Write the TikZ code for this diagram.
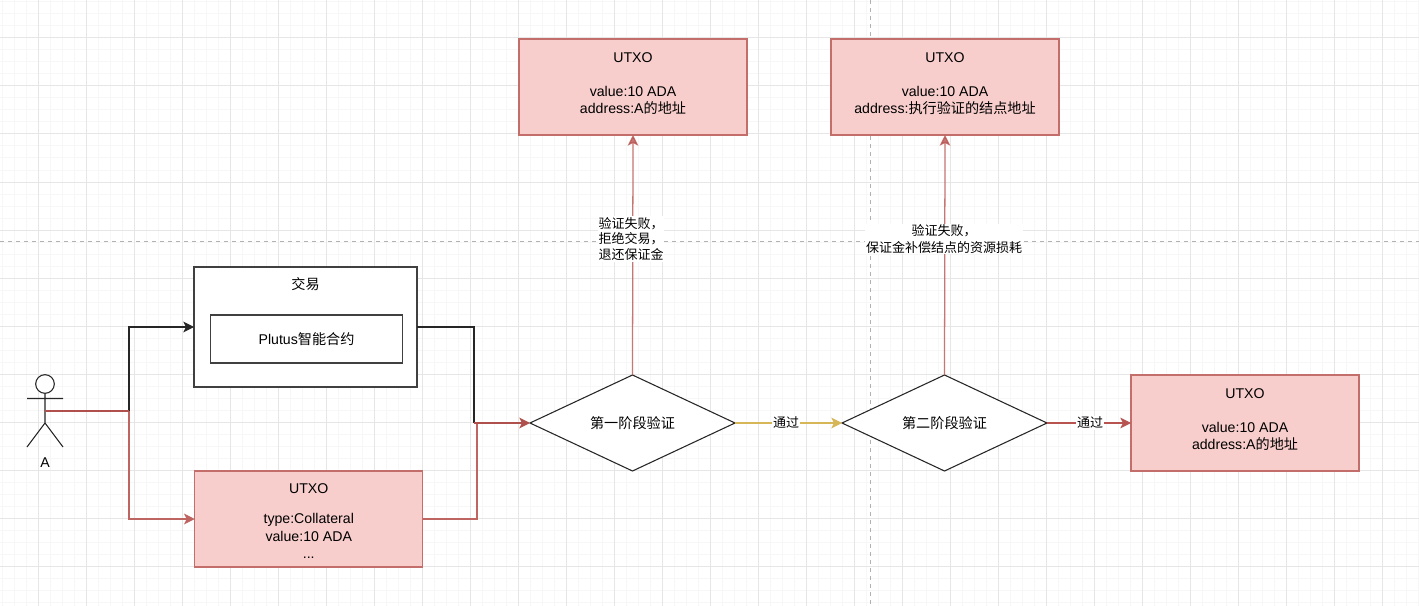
\documentclass[tikz,border=0pt]{standalone}
\usepackage{fontspec}
\setmainfont{Liberation Sans}
\newfontfamily\cjk{Noto Sans CJK SC}
\newcommand{\zh}[1]{{\cjk #1}}
\usetikzlibrary{arrows.meta,shapes.geometric}
\definecolor{redl}{HTML}{B85450}
\definecolor{redf}{HTML}{F8CECC}
\definecolor{yell}{HTML}{D6B656}
\definecolor{gmaj}{HTML}{E6E6E6}
\definecolor{gmin}{HTML}{F7F7F7}
\newcommand{\liftup}{\\[-7pt]\mbox{}}
\tikzset{
  x=0.75pt,y=-0.75pt,
  every node/.style={font=\fontsize{10.6pt}{12.9pt}\selectfont,inner sep=0pt,outer sep=0pt,align=center},
  redbox/.style={rectangle,draw=redl!85,fill=redf,line width=1.1pt,minimum width=171pt,minimum height=72pt,text=black},
  plainbox/.style={rectangle,draw=black!75,fill=white,line width=1pt},
  decision/.style={diamond,aspect=2.135,draw=black!85,fill=white,line width=0.8pt,minimum width=153.75pt,minimum height=72pt,inner sep=0pt},
  conn/.style={line width=0.95pt,-{Stealth[length=8pt,width=8pt,inset=2pt]}},
  noarrow/.style={line width=0.95pt},
  edgelabel/.style={font=\fontsize{9.75pt}{12pt}\selectfont,fill=white,inner sep=0.5pt},
}
\begin{document}
\begin{tikzpicture}
\useasboundingbox (0,0) rectangle (1419,606);
\fill[white] (0,0) rectangle (1419,606);
% grid
\foreach \i in {0,...,118} {\draw[gmin,line width=0.75pt] ({2+12*\i},0) -- ({2+12*\i},606);}
\foreach \i in {0,...,50} {\draw[gmin,line width=0.75pt] (0,{2+12*\i}) -- (1419,{2+12*\i});}
\foreach \i in {0,...,29} {\draw[gmaj,line width=0.75pt] ({38+48*\i},0) -- ({38+48*\i},606);}
\foreach \i in {0,...,12} {\draw[gmaj,line width=0.75pt] (0,{38+48*\i}) -- (1419,{38+48*\i});}
% page breaks
\draw[black!30,line width=0.75pt,dash pattern=on 3pt off 3pt] (0,241) -- (1419,241);
\draw[black!30,line width=0.75pt,dash pattern=on 3pt off 3pt] (870,0) -- (870,606);
% actor
\draw[black!85,line width=0.8pt] (45,393.5) -- (45,423) (27,398.5) -- (63,398.5) (27,447) -- (45,423) -- (63,447);
\node[circle,draw=black!85,fill=white,line width=0.8pt,minimum size=14pt] (head) at (45,384) {};
\node (actorlabel) at (45,463) {A};
\coordinate (actor) at (45,411);
\coordinate (split) at (129,411);
% boxes
\node[plainbox,minimum width=167.25pt,minimum height=90pt] (tx) at (305.5,327) {};
\node (txlabel) at (305.5,284) {\zh{交易}};
\node[plainbox,minimum width=144pt,minimum height=36pt] (plutus) at (306.5,339) {Plutus\zh{智能合约}};
\node[redbox] (coll) at (308.75,519) {};
\node at (308.75,489) {UTXO};
\node at (308.75,519.5) {type:Collateral};
\node at (308.75,536.5) {value:10 ADA};
\node at (308.75,558) {...};
\node[redbox] (u1) at (633,87) {UTXO\\[12.9pt]value:10 ADA\\address:A\zh{的地址}\liftup};
\node[redbox] (u2) at (945,87) {UTXO\\[12.9pt]value:10 ADA\\address:\zh{执行验证的结点地址}\liftup};
\node[redbox] (u3) at (1245,423) {UTXO\\[12.9pt]value:10 ADA\\address:A\zh{的地址}\liftup};
\node[decision] (d1) at (632.5,423) {\zh{第一阶段验证}};
\node[decision] (d2) at (944.5,423) {\zh{第二阶段验证}};
\coordinate (mergeA) at (474,423);
\coordinate (mergeB) at (477,423);
% connectors
\draw[conn,redl!90] (split) |- (coll.west);
\draw[noarrow,redl!90] (coll.east) -| (mergeB);
\draw[conn,black!85] (split) |- (tx.west);
\draw[noarrow,black!85] (tx.east) -| (mergeA);
\draw[conn,redl!95!black] (mergeA) -- (d1.west);
\draw[noarrow,redl!95!black] (actor) -- (split);
\draw[conn,redl,opacity=0.8] (d1.north) -- (u1.south);
\draw[conn,redl,opacity=0.8] (d2.north) -- (u2.south);
\draw[conn,yell] (d1.east) -- (d2.west);
\draw[conn,redl] (d2.east) -- (u3.west);
% labels
\node[edgelabel,align=left,font=\fontsize{9.75pt}{11.9pt}\selectfont] (l1) at (631,239) {\zh{验证失败，}\\\zh{拒绝交易，}\\\zh{退还保证金}};
\node[edgelabel,font=\fontsize{9.75pt}{12.6pt}\selectfont] (l2) at (944,239) {\zh{验证失败，}\\\zh{保证金补偿结点的资源损耗}};
\node[edgelabel] (l3) at (786,423) {\zh{通过}};
\node[edgelabel] (l4) at (1090,423) {\zh{通过}};
\end{tikzpicture}
\end{document}
